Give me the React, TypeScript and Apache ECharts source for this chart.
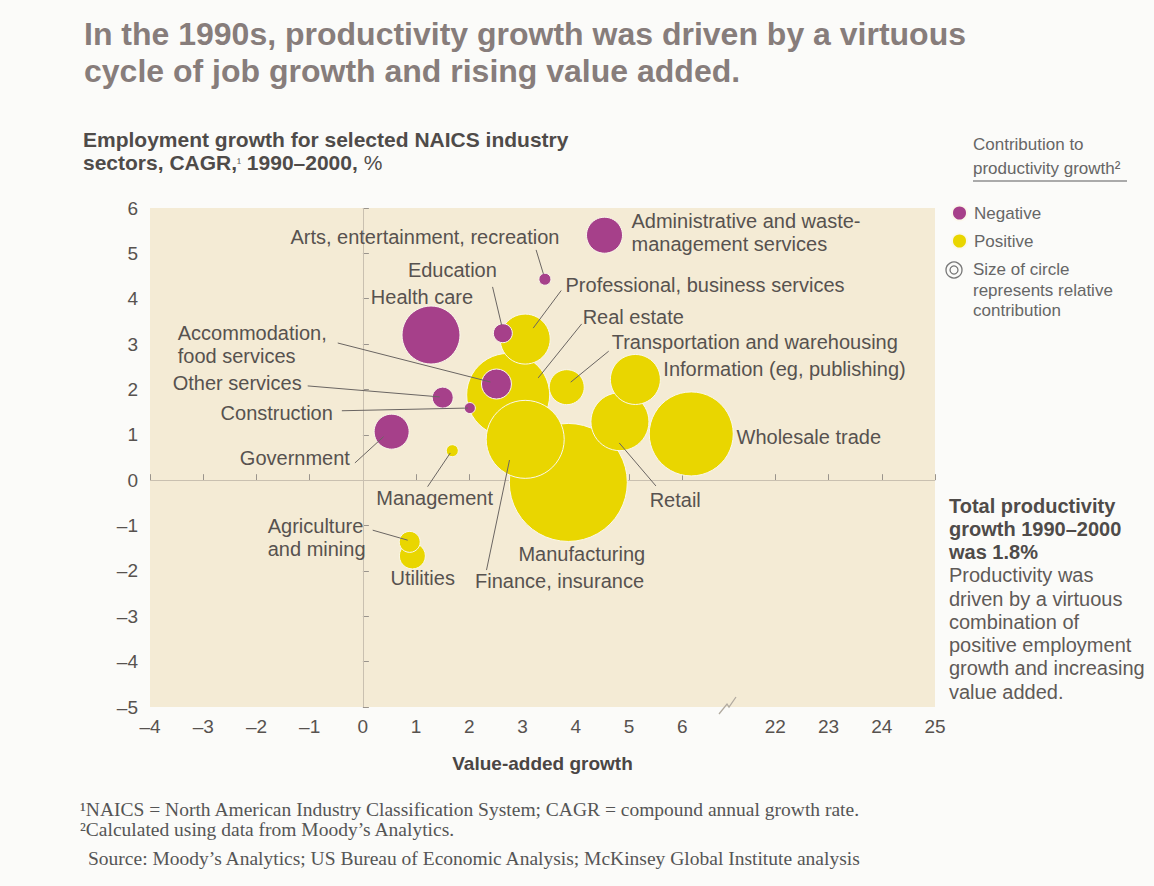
import React, { useEffect, useRef } from 'react';
import * as echarts from 'echarts';

// ---------- data ----------
const sectors = [
  'Administrative and waste-management services',
  'Arts, entertainment, recreation',
  'Education',
  'Health care',
  'Professional, business services',
  'Real estate',
  'Transportation and warehousing',
  'Information (eg, publishing)',
  'Accommodation, food services',
  'Other services',
  'Construction',
  'Government',
  'Management',
  'Agriculture and mining',
  'Utilities',
  'Manufacturing',
  'Finance, insurance',
  'Retail',
  'Wholesale trade',
];
const labelText = [
  'Administrative and waste-\nmanagement services',
  'Arts, entertainment, recreation',
  'Education',
  'Health care',
  'Professional, business services',
  'Real estate',
  'Transportation and warehousing',
  'Information (eg, publishing)',
  'Accommodation,\nfood services',
  'Other services',
  'Construction',
  'Government',
  'Management',
  'Agriculture\nand mining',
  'Utilities',
  'Manufacturing',
  'Finance, insurance',
  'Retail',
  'Wholesale trade',
];
// value-added growth (x)
const valueAdded = [4.54, 3.42, 2.63, 1.28, 3.05, 2.73, 3.83, 5.12, 2.51, 1.5, 2.01, 0.54, 1.68, 0.88, 0.93, 3.86, 3.05, 4.83, 6.17];
// employment growth CAGR 1990-2000, % (y)
const employment = [5.4, 4.43, 3.24, 3.2, 3.11, 1.88, 2.05, 2.22, 2.12, 1.82, 1.59, 1.07, 0.65, -1.36, -1.67, -0.05, 0.9, 1.29, 1.02];
// relative contribution to productivity growth (bubble size)
const contribution = [36, 12, 19, 58, 50, 83, 35, 50, 30, 21, 11, 35, 12, 21, 26, 118, 78, 58, 84];
const effect = [
  'Negative', 'Negative', 'Negative', 'Negative', 'Positive', 'Positive', 'Positive', 'Positive',
  'Negative', 'Negative', 'Negative', 'Negative', 'Positive', 'Positive', 'Positive', 'Positive',
  'Positive', 'Positive', 'Positive',
];
const xTicksLeft = [-4, -3, -2, -1, 0, 1, 2, 3, 4, 5, 6];
const xTicksRight = [22, 23, 24, 25];
const yMin = -5;
const yMax = 6;

// ---------- axis break mapping ----------
const BREAK_FROM = 6;
const BREAK_TO = 22;
const BREAK_GAP = 1.75;
const toAxis = (v: number) => (v >= BREAK_TO ? v - BREAK_TO + BREAK_FROM + BREAK_GAP : v);
const fromAxis = (p: number) => (p > BREAK_FROM + 0.5 ? p - BREAK_FROM - BREAK_GAP + BREAK_TO : p);

// ---------- label placement (pixels, relative to bubble centre) ----------
type LL = { dx: number; dy: number; align: string; line?: number[] };
const labelLayout: LL[] = [
  { dx: 27, dy: -3, align: 'left' },
  { dx: 14.5, dy: -42, align: 'right', line: [-8.8, -29.3, -1.5, -5.3] },
  { dx: -6, dy: -63, align: 'right', line: [-10.3, -46.3, -1.3, -8.3] },
  { dx: -9, dy: -38, align: 'center' },
  { dx: 40.3, dy: -54, align: 'left', line: [36, -48.6, 8, -11] },
  { dx: 74.5, dy: -78, align: 'left', line: [73.5, -71, 30, -17] },
  { dx: 45, dy: -45, align: 'left', line: [42, -36, 4, -5] },
  { dx: 28, dy: -10, align: 'left' },
  { dx: -318.7, dy: -40, align: 'left', line: [-158.7, -41, -6, -2] },
  { dx: -270, dy: -14.7, align: 'left', line: [-135, -11.7, -3, -0.7] },
  { dx: -137, dy: 5, align: 'right', line: [-128, 2.7, -2, 0] },
  { dx: -41.7, dy: 26.3, align: 'right', line: [-36.7, 31.3, -8, 5] },
  { dx: -17.7, dy: 47.3, align: 'center', line: [-24.7, 36, -2, 2.3] },
  { dx: -142, dy: -4.2, align: 'left', line: [-37, -11.7, -2, -1.7] },
  { dx: 10.3, dy: 22, align: 'center' },
  { dx: 13.5, dy: 71.5, align: 'center' },
  { dx: 34.3, dy: 141.7, align: 'center', line: [-38.7, 130.7, -15.7, 20.7] },
  { dx: 55.3, dy: 78.3, align: 'center', line: [36, 64.3, -0.7, 21.3] },
  { dx: 45.3, dy: 3, align: 'left' },
];

const FONT = 'Liberation Sans, Arial, Helvetica, sans-serif';
const SERIF = 'Liberation Serif, Times New Roman, serif';
const TXT = '#57524f';
const MAGENTA = '#a6408a';
const YELLOW = '#e9d600';
const PLOT_BG = '#f4ebd5';

const fmtNum = (v: number) => (v < 0 ? '\u2013' + -v : String(v));

function buildSeriesData(kind: string) {
  const idx = sectors.map((_, i) => i).filter((i) => effect[i] === kind);
  idx.sort((a, b) => contribution[b] - contribution[a]);
  return idx.map((i) => ({ name: sectors[i], value: [toAxis(valueAdded[i]), employment[i], contribution[i]] }));
}

export default function App() {
  const ref = useRef<HTMLDivElement>(null);
  useEffect(() => {
    if (!ref.current) return;
    const chart = echarts.init(ref.current, null, { renderer: 'svg' });
    const xCustom = [...xTicksLeft, ...xTicksRight].map(toAxis);
    const option: any = {
      animation: false,
      backgroundColor: '#fbfbf9',
      textStyle: { fontFamily: FONT },
      grid: { left: 150, right: 219, top: 208, bottom: 179, show: true, backgroundColor: PLOT_BG, borderWidth: 0 },
      legend: {
        data: ['Negative', 'Positive'],
        orient: 'vertical',
        left: 946,
        top: 199.5,
        icon: 'circle',
        itemWidth: 15,
        itemHeight: 15,
        itemGap: 11,
        selectedMode: false,
        textStyle: { fontSize: 17, color: '#666', fontFamily: FONT, lineHeight: 17, padding: [0, 0, 0, 2] },
      },
      xAxis: {
        type: 'value',
        min: -4,
        max: toAxis(25),
        axisLine: { show: false },
        splitLine: { show: false },
        axisTick: { show: true, inside: true, length: 6, customValues: xCustom, lineStyle: { color: '#9a948c' } },
        axisLabel: {
          customValues: xCustom,
          margin: 10,
          fontSize: 19,
          color: TXT,
          fontFamily: FONT,
          formatter: (v: number) => fmtNum(Math.round(fromAxis(v))),
        },
        name: 'Value-added growth',
        nameLocation: 'middle',
        nameGap: 47,
        nameTextStyle: { fontSize: 19, fontWeight: 'bold', color: '#4a4644', fontFamily: FONT },
      },
      yAxis: {
        type: 'value',
        min: yMin,
        max: yMax,
        interval: 1,
        axisLine: { show: false },
        splitLine: { show: false },
        axisTick: { show: true, inside: true, length: 6, lineStyle: { color: '#9a948c' } },
        axisLabel: { margin: 12, fontSize: 19, color: TXT, fontFamily: FONT, formatter: (v: number) => fmtNum(v) },
      },
      series: [
        {
          name: 'Positive',
          type: 'scatter',
          z: 3,
          data: buildSeriesData('Positive'),
          symbolSize: (v: number[]) => v[2],
          itemStyle: { color: YELLOW, borderColor: '#fbf8ec', borderWidth: 1, opacity: 1 },
          markLine: {
            z: 1,
            silent: true,
            symbol: ['none', 'none'],
            label: { show: false },
            lineStyle: { color: '#c9c0b0', width: 1, type: 'solid' },
            data: [{ xAxis: 0 }, { yAxis: 0 }],
          },
        },
        {
          name: 'Negative',
          type: 'scatter',
          z: 3,
          data: buildSeriesData('Negative'),
          symbolSize: (v: number[]) => v[2],
          itemStyle: { color: MAGENTA, borderColor: '#fbf8ec', borderWidth: 1, opacity: 1 },
        },
        {
          name: 'labels',
          type: 'custom',
          z: 5,
          silent: true,
          encode: { x: 0, y: 1 },
          data: sectors.map((_, i) => [toAxis(valueAdded[i]), employment[i], i]),
          renderItem: (params: any, api: any) => {
            const i = api.value(2);
            const c = api.coord([api.value(0), api.value(1)]);
            const L = labelLayout[i];
            const children: any[] = [
              {
                type: 'text',
                x: c[0] + L.dx,
                y: c[1] + L.dy,
                style: {
                  text: labelText[i],
                  fill: TXT,
                  fontSize: 20,
                  fontFamily: FONT,
                  align: L.align,
                  verticalAlign: 'middle',
                  lineHeight: 23,
                },
              },
            ];
            if (L.line) {
              children.push({
                type: 'line',
                shape: { x1: c[0] + L.line[0], y1: c[1] + L.line[1], x2: c[0] + L.line[2], y2: c[1] + L.line[3] },
                style: { stroke: '#6a6562', lineWidth: 1 },
              });
            }
            return { type: 'group', children };
          },
        },
      ],
      graphic: [
        {
          type: 'text',
          left: 84,
          top: 15,
          style: {
            text: 'In the 1990s, productivity growth was driven by a virtuous\ncycle of job growth and rising value added.',
            fontSize: 32,
            fontWeight: 'bold',
            fill: '#877d7b',
            fontFamily: FONT,
            lineHeight: 37,
          },
        },
        {
          type: 'text',
          left: 83,
          top: 129,
          style: {
            text: '{b|Employment growth for selected NAICS industry}\n{b|sectors, CAGR,}{s|\u00b9}{b| 1990\u20132000, }{r|%}',
            rich: {
              b: { fontSize: 21, fontWeight: 'bold', fill: '#4f4b49', fontFamily: FONT, lineHeight: 23 },
              s: { fontSize: 12, fill: '#4f4b49', fontFamily: FONT, lineHeight: 23 },
              r: { fontSize: 21, fill: '#4f4b49', fontFamily: FONT, lineHeight: 23 },
            },
          },
        },
        {
          type: 'text',
          left: 973,
          top: 132,
          style: { text: 'Contribution to\nproductivity growth\u00b2', fontSize: 17, fill: '#666', fontFamily: FONT, lineHeight: 24 },
        },
        { type: 'line', shape: { x1: 973, y1: 181, x2: 1127, y2: 181 }, style: { stroke: '#8f8f8f', lineWidth: 1.5 } },
        { type: 'circle', shape: { cx: 954, cy: 270, r: 8 }, style: { fill: 'none', stroke: '#777', lineWidth: 1.3 } },
        { type: 'circle', shape: { cx: 954, cy: 270, r: 4 }, style: { fill: 'none', stroke: '#777', lineWidth: 1.3 } },
        {
          type: 'text',
          left: 973,
          top: 259.5,
          style: { text: 'Size of circle\nrepresents relative\ncontribution', fontSize: 17, fill: '#666', fontFamily: FONT, lineHeight: 20.5 },
        },
        {
          type: 'text',
          left: 949,
          top: 495.5,
          style: {
            text:
              '{b|Total productivity}\n{b|growth 1990\u20132000}\n{b|was 1.8%}\n{r|Productivity was}\n{r|driven by a virtuous}\n{r|combination of}\n{r|positive employment}\n{r|growth and increasing}\n{r|value added.}',
            rich: {
              b: { fontSize: 20, fontWeight: 'bold', fill: '#4f4b49', fontFamily: FONT, lineHeight: 23.25 },
              r: { fontSize: 20, fill: '#5f5a57', fontFamily: FONT, lineHeight: 23.25 },
            },
          },
        },
        {
          type: 'polyline',
          shape: { points: [[719, 714], [727, 704], [729, 707], [736, 697]] },
          style: { stroke: '#b1aaa0', lineWidth: 1.3, fill: 'none' },
        },
        {
          type: 'text',
          left: 80,
          top: 799,
          style: {
            text:
              '\u00b9NAICS = North American Industry Classification System; CAGR = compound annual growth rate.\n\u00b2Calculated using data from Moody\u2019s Analytics.',
            fontSize: 19.5,
            fill: '#555',
            fontFamily: SERIF,
            lineHeight: 20,
          },
        },
        {
          type: 'text',
          left: 88,
          top: 848,
          style: {
            text: 'Source: Moody\u2019s Analytics; US Bureau of Economic Analysis; McKinsey Global Institute analysis',
            fontSize: 19.5,
            fill: '#555',
            fontFamily: SERIF,
          },
        },
      ],
    };
    chart.setOption(option);
    return () => chart.dispose();
  }, []);
  return <div ref={ref} style={{ position: 'fixed', left: 0, top: 0, width: 1154, height: 886 }} />;
}
